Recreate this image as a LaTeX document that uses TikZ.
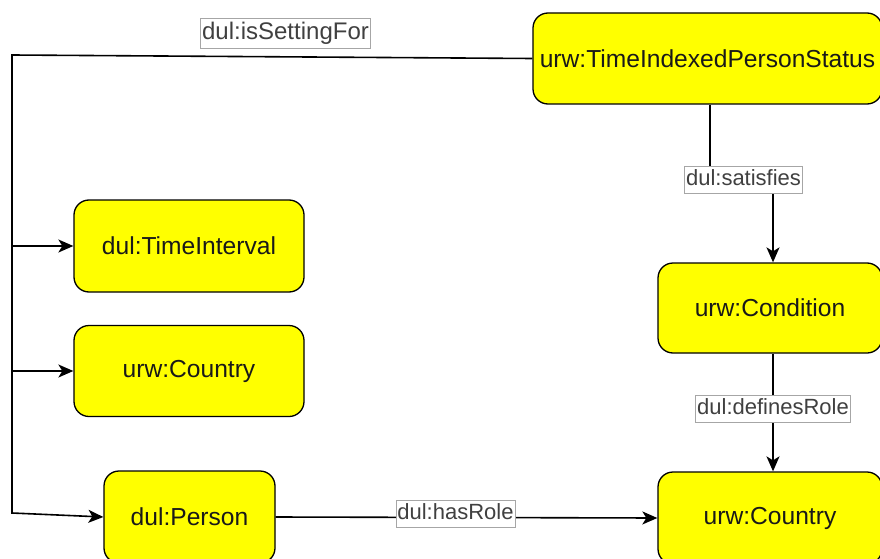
\documentclass[tikz,border=0pt]{standalone}
\usepackage{fontspec}
\setmainfont{Liberation Sans}
\usetikzlibrary{arrows.meta}
\definecolor{boxyellow}{HTML}{FFFF00}
\tikzset{
  x=1pt, y=-1pt,
  cls/.style={draw=black, line width=1.3pt, fill=boxyellow, rounded corners=15pt,
    font=\fontsize{24.6}{28}\selectfont, text=black!90, inner sep=0pt},
  rel/.style={draw=black!35, line width=0.6pt, fill=white, inner xsep=1.5pt, inner ysep=2.5pt,
    text height=17pt, text depth=5pt, font=\fontsize{22}{26}\selectfont, text=black!75},
  bigrel/.style={rel, text height=19pt, text depth=6pt, font=\fontsize{24}{28}\selectfont},
  link/.style={line width=1.6pt, draw=black},
  arr/.style={link, -{Stealth[length=15pt, width=13pt, inset=4pt]}},
}
\begin{document}
\begin{tikzpicture}
\useasboundingbox (0,0) rectangle (880,559);
\clip (0,0) rectangle (880,559);

% classes
\node[cls, minimum width=349pt, minimum height=91pt] (tips) at (707.5,58.5) {urw:TimeIndexedPersonStatus};
\node[cls, minimum width=230pt, minimum height=92pt] (ti) at (189,246) {dul:TimeInterval};
\node[cls, minimum width=230pt, minimum height=91pt] (ctryA) at (189,371) {urw:Country};
\node[cls, minimum width=171pt, minimum height=92pt] (person) at (189.5,517) {dul:Person};
\node[cls, minimum width=224pt, minimum height=90pt] (cond) at (770,308) {urw:Condition};
\node[cls, minimum width=224pt, minimum height=92pt] (ctryB) at (770,518) {urw:Country};

% routing points of the setting bus
\coordinate (busTop) at (12,55);
\coordinate (busTI) at (12,246);
\coordinate (busC) at (12,371);
\coordinate (busBot) at (12,513);

% dul:isSettingFor
\draw[arr] (tips.west) -- (busTop) -- (busBot) -- (person.west);
\draw[arr] (busTI) -- (ti.west);
\draw[arr] (busC) -- (ctryA.west);
\node[bigrel] (lSetting) at (285.5,33.5) {dul:isSettingFor};

% dul:satisfies
\coordinate (satA) at (710,179.5);
\coordinate (satB) at (773,179.5);
\draw[arr] (710,0 |- tips.south) -- (satA) -- (satB) -- (773,0 |- cond.north);
\node[rel] (lSat) at (743.5,179.5) {dul:satisfies};

% dul:definesRole
\draw[arr] (773,0 |- cond.south) -- node[rel, pos=0.47] (lDef) {dul:definesRole} (773,0 |- ctryB.north);

% dul:hasRole
\draw[arr] (person.east) -- node[rel, pos=0.471, yshift=4pt] (lRole) {dul:hasRole} (ctryB.west);
\end{tikzpicture}
\end{document}
